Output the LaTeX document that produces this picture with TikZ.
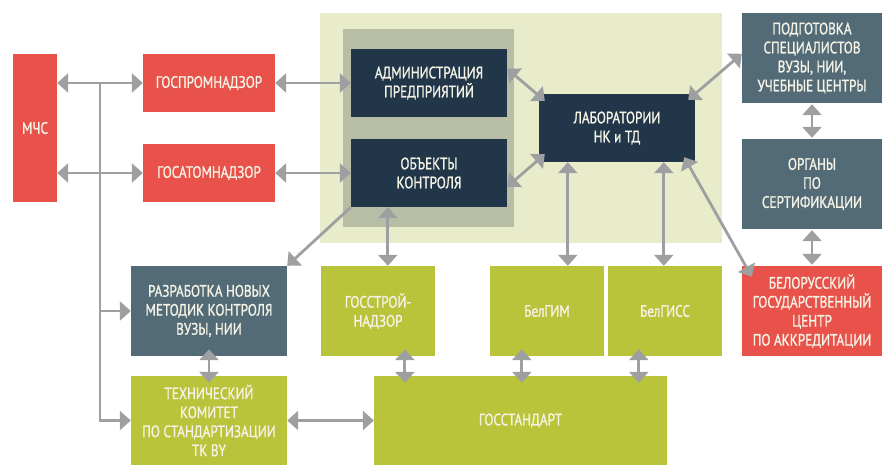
\documentclass[tikz,border=0pt]{standalone}
\usepackage{fontspec}
\setmainfont{PT Sans}[FakeStretch=0.8,FakeBold=1.2]
\usetikzlibrary{arrows.meta,calc}
\definecolor{cred}{HTML}{E8524A}
\definecolor{cnavy}{HTML}{22364A}
\definecolor{cslate}{HTML}{536B76}
\definecolor{colive}{HTML}{B9C43A}
\definecolor{clight}{HTML}{E8ECCB}
\definecolor{cgreybox}{HTML}{B8BDA6}
\definecolor{carrow}{HTML}{9D9FA0}
\definecolor{ctext}{HTML}{F5F2E6}
\begin{document}
\begin{tikzpicture}[x=1pt,y=-1pt,
  box/.style={rectangle, inner sep=0pt, text=ctext, align=center,
    font=\fontsize{16.5}{19}\selectfont},
  redb/.style={box, fill=cred},
  navyb/.style={box, fill=cnavy},
  slateb/.style={box, fill=cslate},
  oliveb/.style={box, fill=colive},
  arr/.style={draw=carrow, line width=2.8pt, -{Triangle[length=11pt,width=19pt]}},
  dbl/.style={draw=carrow, line width=2.8pt, {Triangle[length=11pt,width=19pt]}-{Triangle[length=11pt,width=19pt]}},
  over/.style={shorten <=-7pt, shorten >=-7pt}
]
\useasboundingbox (0,0) rectangle (882,465);
% backgrounds
\fill[clight] (320,13) rectangle (722,243);
\fill[cgreybox] (343,29) rectangle (514,227);
% nodes
\node[redb, minimum width=44pt, minimum height=148pt] (mchs) at (35,128) {МЧС};
\node[redb, minimum width=132pt, minimum height=58pt] (gpn) at (209,83) {ГОСПРОМНАДЗОР};
\node[redb, minimum width=132pt, minimum height=58pt] (gan) at (209,173) {ГОСАТОМНАДЗОР};
\node[navyb, minimum width=156pt, minimum height=68pt] (adm) at (429,83) {АДМИНИСТРАЦИЯ\\ПРЕДПРИЯТИЙ};
\node[navyb, minimum width=156pt, minimum height=68pt] (obj) at (429,173) {ОБЪЕКТЫ\\КОНТРОЛЯ};
\node[navyb, minimum width=156pt, minimum height=68pt] (lab) at (617,128) {ЛАБОРАТОРИИ\\НК и ТД};
\node[slateb, minimum width=140pt, minimum height=90pt] (podg) at (812,58) {ПОДГОТОВКА\\СПЕЦИАЛИСТОВ\\ВУЗЫ, НИИ,\\УЧЕБНЫЕ ЦЕНТРЫ};
\node[slateb, minimum width=140pt, minimum height=90pt] (org) at (812,184) {ОРГАНЫ\\ПО\\СЕРТИФИКАЦИИ};
\node[redb, minimum width=140pt, minimum height=90pt] (bel) at (812,311) {БЕЛОРУССКИЙ\\ГОСУДАРСТВЕННЫЙ\\ЦЕНТР\\ПО АККРЕДИТАЦИИ};
\node[slateb, minimum width=156pt, minimum height=90pt] (razr) at (209,311) {РАЗРАБОТКА НОВЫХ\\МЕТОДИК КОНТРОЛЯ\\ВУЗЫ, НИИ};
\node[oliveb, minimum width=156pt, minimum height=89pt] (tech) at (209,420.5) {ТЕХНИЧЕСКИЙ\\КОМИТЕТ\\ПО СТАНДАРТИЗАЦИИ\\ТК BY};
\node[oliveb, minimum width=114pt, minimum height=90pt] (gstroy) at (378,311) {ГОССТРОЙ-\\НАДЗОР};
\node[oliveb, minimum width=114pt, minimum height=90pt] (belgim) at (547,311) {БелГИМ};
\node[oliveb, minimum width=114pt, minimum height=90pt] (belgiss) at (665,311) {БелГИСС};
\node[oliveb, minimum width=293pt, minimum height=89pt] (gosst) at (520.5,420.5) {ГОССТАНДАРТ};
% connectors
\coordinate (tr) at (100,83);
\draw[dbl] (mchs.east |- gpn.west) -- (gpn.west);
\draw[dbl] (mchs.east |- gan.west) -- (gan.west);
\draw[arr] (tr) |- (tech.west);
\draw[arr] (tr |- razr.west) -- (razr.west);
\draw[dbl] (gpn.east) -- (adm.west);
\draw[dbl] (gan.east) -- (obj.west);
\draw[dbl] ($(adm.north east)+(0,20)$) -- ($(lab.north west)+(6,7)$);
\draw[dbl] ($(obj.north east)+(0,48)$) -- ($(lab.south west)+(6,-8)$);
\draw[dbl] ($(lab.north east)+(-7,6)$) -- ($(podg.north west)+(0,41)$);
\draw[dbl] ($(lab.south east)+(-11,-5)$) -- ($(bel.north west)+(10,11)$);
\coordinate (l1) at ($(lab.south west)+(29,0)$);
\coordinate (l2) at ($(lab.south west)+(125,0)$);
\draw[dbl] (l1) -- (l1 |- belgim.north);
\draw[dbl] (l2) -- (l2 |- belgiss.north);
\coordinate (o1) at ($(obj.south west)+(37,0)$);
\draw[dbl] (o1) -- (o1 |- gstroy.north);
\draw[arr] (obj.south west) -- (razr.north east);
\draw[dbl, over] (razr.south) -- (tech.north);
\coordinate (g1) at ($(gstroy.south west)+(84,0)$);
\coordinate (g2) at ($(belgim.south west)+(32,0)$);
\coordinate (g3) at ($(belgiss.south west)+(31,0)$);
\draw[dbl, over] (g1) -- (g1 |- gosst.north);
\draw[dbl, over] (g2) -- (g2 |- gosst.north);
\draw[dbl, over] (g3) -- (g3 |- gosst.north);
\draw[dbl] (tech.east) -- (gosst.west);
\draw[dbl, shorten <=1pt, shorten >=1pt] (podg.south) -- (org.north);
\draw[dbl, shorten <=1pt, shorten >=1pt] (org.south) -- (bel.north);
\end{tikzpicture}
\end{document}
